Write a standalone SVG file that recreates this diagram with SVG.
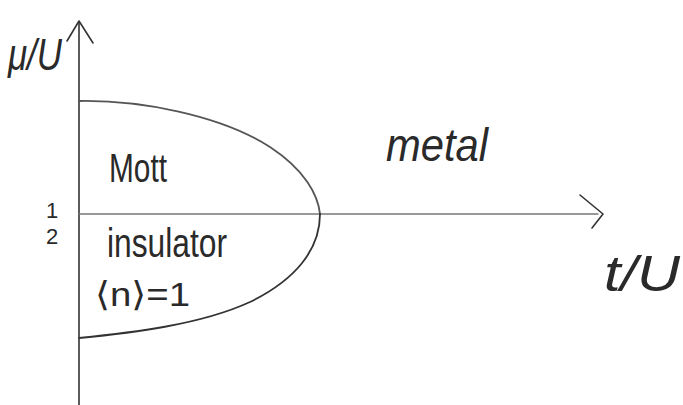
<svg xmlns="http://www.w3.org/2000/svg" width="683" height="405" viewBox="0 0 683 405">
<style>
.ax{fill:none;stroke:#333;stroke-width:1.6;stroke-linecap:round;stroke-linejoin:round}
.bd{fill:none;stroke:#555;stroke-width:1.8;stroke-linecap:round}
.lb{font-family:"Liberation Sans","DejaVu Sans",sans-serif;fill:#2a2a2a}
</style>
<rect width="683" height="405" fill="#fff"/>
<g id="connectors">
<path class="ax" d="M79,405 L79,22"/>
<path class="ax" d="M67,41 L79,21 L93,43"/>
<path class="ax" d="M79,214 L598,214" style="stroke:#777;stroke-width:1.3"/>
<path class="ax" d="M580,195 L603,214 L592,228"/>
<path class="bd" d="M79,101 C140,100 220,115 270,147 C305,170 318,195 320,214"/>
<path class="bd" d="M320,214 C320,250 295,280 250,302 C200,325 130,333 79,338" style="stroke:#333"/>
</g>
<g id="axis-y-label"><text class="lb" x="8" y="70" font-size="44" font-style="italic" textLength="54" lengthAdjust="spacingAndGlyphs">μ/U</text></g>
<g id="axis-x-label"><text class="lb" x="604" y="291" font-size="50" font-style="italic" textLength="76" lengthAdjust="spacingAndGlyphs">t/U</text></g>
<g id="half">
<text class="lb" x="52" y="218" font-size="22" text-anchor="middle">1</text>
<text class="lb" x="52" y="244" font-size="22" text-anchor="middle">2</text>
</g>
<g id="mott">
<text class="lb" x="109" y="182" font-size="40" textLength="58" lengthAdjust="spacingAndGlyphs">Mott</text>
<text class="lb" x="107" y="257" font-size="40" textLength="120" lengthAdjust="spacingAndGlyphs">insulator</text>
<text class="lb" x="95" y="306" font-size="34" textLength="95" lengthAdjust="spacingAndGlyphs">⟨n⟩=1</text>
</g>
<g id="metal"><text class="lb" x="386" y="161" font-size="46" font-style="italic" textLength="102" lengthAdjust="spacingAndGlyphs">metal</text></g>
</svg>
